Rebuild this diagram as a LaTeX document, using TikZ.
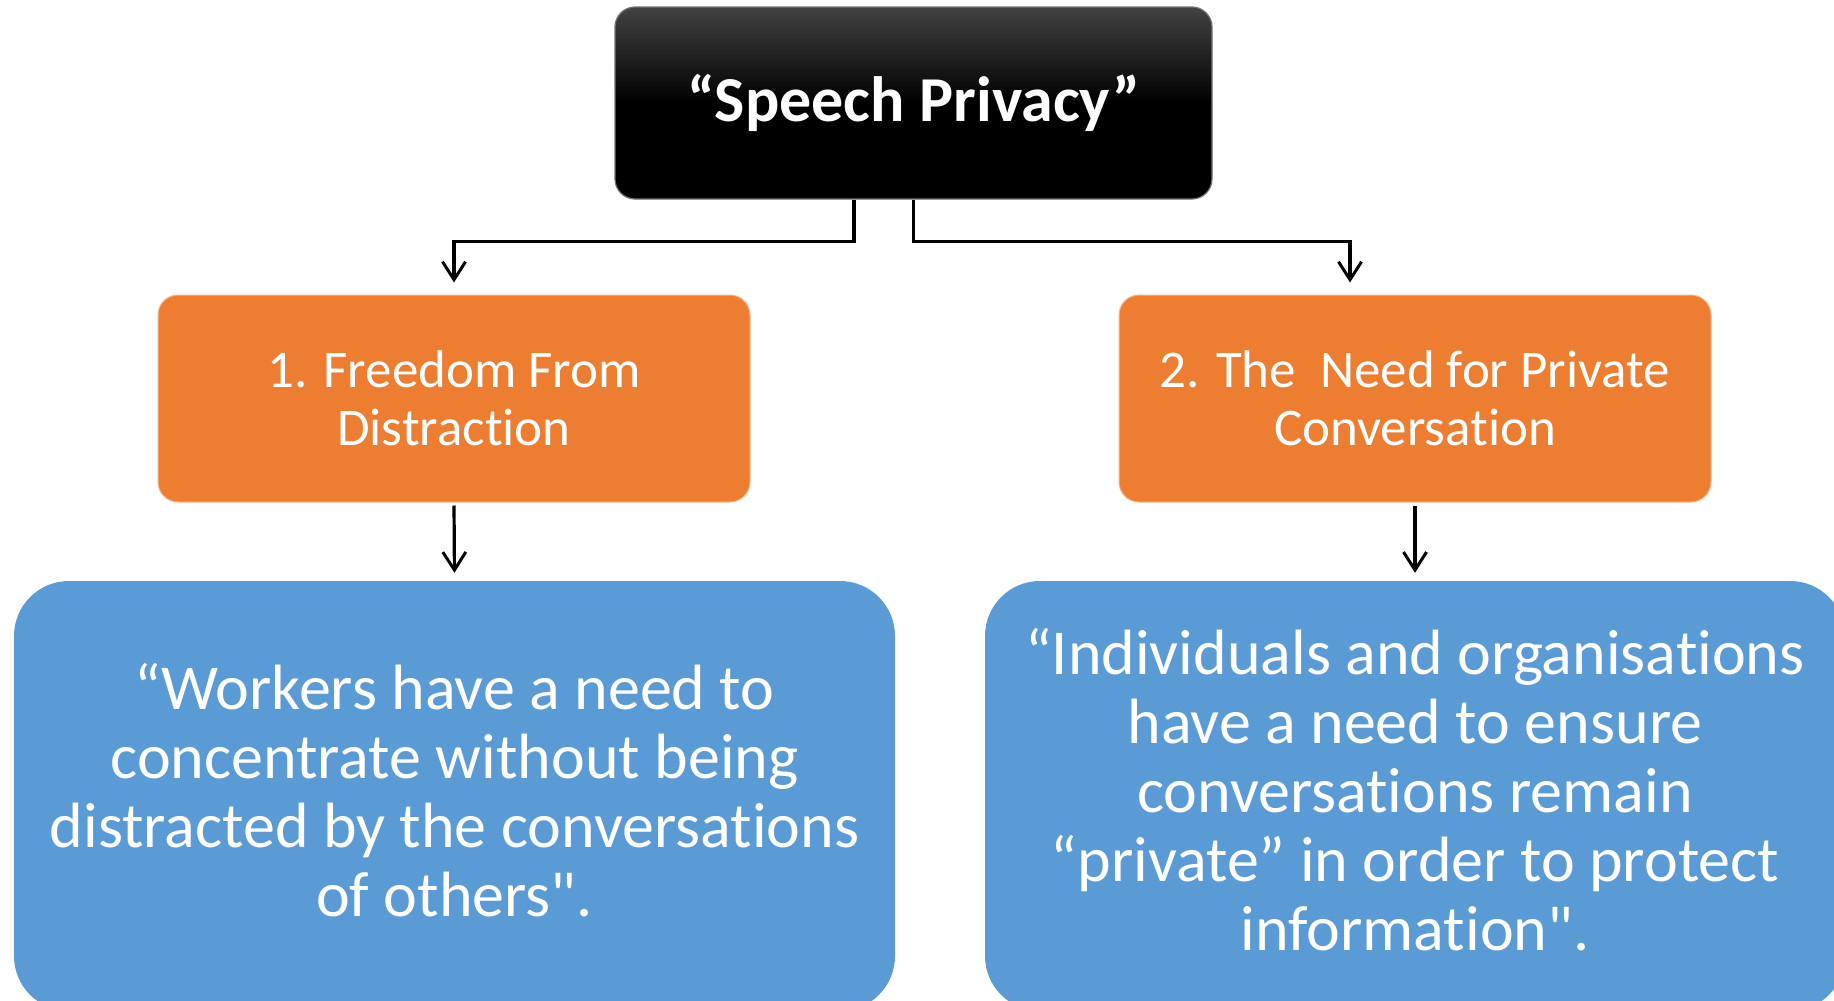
\documentclass[tikz,border=0pt]{standalone}
\usepackage{fontspec}
\setmainfont{Carlito}[Ligatures={TeXOff,NoCommon,NoContextual}]
\usetikzlibrary{arrows.meta,positioning,calc}
\definecolor{brick}{HTML}{ED7D31}
\definecolor{sky}{HTML}{5B9BD5}

\begin{document}
\begin{tikzpicture}[x=1pt,y=-1pt,
  head/.style={draw=black!55,line width=1.2pt,rounded corners=20pt,top color=black!74,bottom color=black,middle color=black,minimum width=597pt,minimum height=192pt,text=white,font=\fontsize{64}{70}\selectfont\bfseries},
  need/.style={draw=brick!55!white,line width=1pt,fill=brick,rounded corners=20pt,minimum width=592pt,minimum height=207pt,text=white,align=center,font=\fontsize{53}{58}\selectfont},
  quote/.style={fill=sky,rounded corners=55pt,minimum height=430pt},
  quotetext/.style={text=white,align=center,font=\fontsize{64}{69}\selectfont},
  link/.style={-{Straight Barb[length=18pt,width=23pt,line width=3pt]},line width=3.2pt}]
\path[use as bounding box,clip] (0,0) rectangle (1834,1001);
\fill[white] (0,0) rectangle (1834,1001);

\node[head] (sp) at (913.5,103) {“Speech Privacy”};
\node[need] (fd) at (454,398.5) {1. Freedom From\\Distraction};
\node[need] (nc) at (1415,398.5) {2. The\ \ Need for Private\\Conversation};
\node[quote,minimum width=881pt] (wq) at (454.5,796) {};
\node[quote,minimum width=860pt] (iq) at (1415,796) {};
\node[quotetext] (wqt) at ([yshift=6pt]wq.center) {“Workers have a need to\\concentrate without being\\distracted by the conversations\\of others".};
\node[quotetext] (iqt) at ([yshift=6pt]iq.center) {“Individuals and organisations\\have a need to ensure\\conversations remain\\“private” in order to protect\\information".};

% branches out of the title box
\draw[link,shorten >=12pt] ([xshift=-59.5pt]sp.south) -- ++(0,42) -| (fd.north);
\draw[link,shorten >=12pt] (sp.south) -- ++(0,42) -| ([xshift=-65pt]nc.north);
% down to the quotes
\draw[link,shorten <=3pt,shorten >=8pt] (fd.south) -- (wq.north);
\draw[link,shorten <=3pt,shorten >=8pt] (nc.south) -- (iq.north);
\end{tikzpicture}
\end{document}
